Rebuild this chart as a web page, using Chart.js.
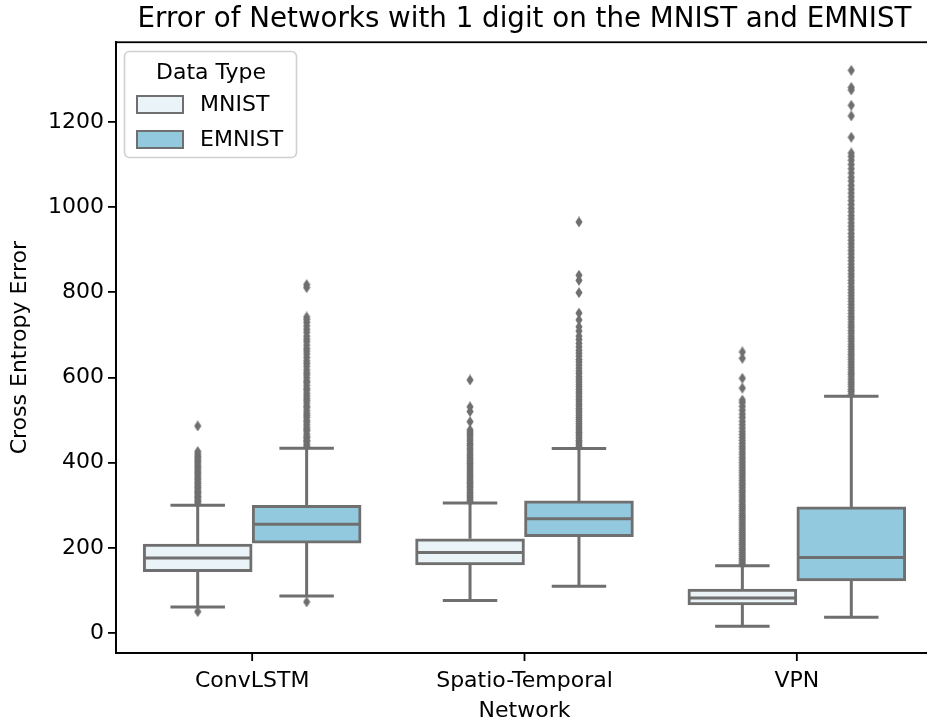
<!DOCTYPE html>
<html><head><meta charset="utf-8">
<script src="https://cdn.jsdelivr.net/npm/chart.js@4.4.0/dist/chart.umd.min.js"></script>
<style>html,body{margin:0;padding:0;background:#fff;overflow:hidden;} #wrap{width:960px;height:725px;}</style>
</head><body><div id="wrap"><canvas id="c" width="960" height="725"></canvas></div>
<script>
// ---------- data ----------
const categories = ['ConvLSTM', 'Spatio-Temporal', 'VPN'];
const seriesNames = ['MNIST', 'EMNIST'];
const yTicks = [0, 200, 400, 600, 800, 1000, 1200];

const mnistQ1     = [144, 160, 66];
const mnistMedian = [176, 189, 82];
const mnistQ3     = [209, 221, 103];
const mnistLow    = [61, 76, 16];
const mnistHigh   = [300, 305, 158];

const emnistQ1     = [211, 226, 122];
const emnistMedian = [255, 268, 177];
const emnistQ3     = [300, 310, 296];
const emnistLow    = [87, 110, 37];
const emnistHigh   = [434, 433, 556];

const convMnistOut = [50, 305, 309, 313, 318, 321, 326, 330, 333, 338, 342, 346, 351, 355, 360, 364, 369, 374, 378, 383, 388, 392, 397, 402, 406, 411, 415, 420, 426, 486];
const convEmnistOut = [73, 438, 443, 449, 452, 458, 461, 467, 474, 478, 483, 489, 495, 499, 506, 511, 516, 522, 529, 533, 540, 546, 551, 557, 563, 570, 574, 581, 588, 592, 599, 606, 611, 618, 626, 633, 639, 647, 655, 662, 668, 676, 684, 690, 697, 706, 713, 721, 729, 736, 742, 811, 818];
const stMnistOut = [309, 313, 318, 322, 327, 331, 336, 341, 345, 350, 354, 359, 364, 369, 373, 378, 383, 388, 393, 398, 403, 408, 413, 418, 423, 429, 434, 440, 445, 451, 456, 462, 467, 472, 477, 496, 520, 531, 594];
const stEmnistOut = [438, 443, 448, 452, 457, 462, 467, 471, 476, 481, 486, 491, 496, 501, 506, 511, 517, 522, 527, 533, 538, 544, 549, 555, 561, 566, 572, 578, 584, 590, 596, 602, 609, 615, 622, 629, 636, 642, 650, 657, 664, 672, 680, 689, 697, 709, 719, 735, 751, 799, 828, 840, 965];
const vpnMnistOut = [162, 166, 171, 175, 180, 184, 189, 194, 198, 203, 208, 212, 217, 222, 227, 231, 236, 241, 246, 251, 256, 261, 266, 271, 276, 281, 287, 292, 297, 302, 308, 313, 319, 324, 330, 335, 341, 347, 352, 358, 364, 370, 376, 382, 388, 394, 400, 406, 412, 419, 425, 432, 438, 445, 452, 459, 466, 473, 481, 489, 497, 506, 514, 523, 532, 541, 547, 575, 598, 645, 660];
const vpnEmnistOut = [561, 567, 572, 578, 584, 589, 595, 601, 607, 612, 618, 624, 630, 636, 642, 648, 654, 660, 666, 672, 678, 685, 691, 697, 704, 710, 717, 723, 730, 737, 743, 750, 757, 764, 771, 778, 785, 792, 799, 806, 813, 821, 828, 836, 843, 851, 858, 866, 874, 882, 890, 898, 906, 914, 922, 930, 938, 947, 955, 963, 972, 980, 989, 997, 1006, 1015, 1024, 1033, 1042, 1051, 1061, 1070, 1080, 1090, 1100, 1110, 1119, 1127, 1164, 1214, 1239, 1275, 1281, 1321];

const mnistOutliers = [convMnistOut, stMnistOut, vpnMnistOut];
const emnistOutliers = [convEmnistOut, stEmnistOut, vpnEmnistOut];

// ---------- styles ----------
const GREY = '#6f6f6f';
const FILLS = ['#eaf3f8', '#93c9de'];
const FONT = 'DejaVu Sans';
const GROUP_OFFSETS = [-0.2, 0.2];
const HALF_BOX = 0.2, HALF_CAP = 0.1;
const TICK_LEN = 8;

const series = [
  {name: seriesNames[0], q1: mnistQ1, med: mnistMedian, q3: mnistQ3, lo: mnistLow, hi: mnistHigh, out: mnistOutliers},
  {name: seriesNames[1], q1: emnistQ1, med: emnistMedian, q3: emnistQ3, lo: emnistLow, hi: emnistHigh, out: emnistOutliers}
];

const dia = document.createElement('canvas');
dia.width = 8; dia.height = 11;
(function(){ const d = dia.getContext('2d'); d.fillStyle = GREY; d.beginPath();
  d.moveTo(4, 0); d.lineTo(7.6, 5.5); d.lineTo(4, 11); d.lineTo(0.4, 5.5); d.closePath(); d.fill(); })();

const datasets = [];
series.forEach((s, k) => {
  datasets.push({
    type: 'bar', label: s.name, xAxisID: 'xs', yAxisID: 'y',
    data: s.q1.map((v, i) => ({x: i + GROUP_OFFSETS[k], y: [v, s.q3[i]]})),
    backgroundColor: FILLS[k], borderColor: GREY, borderWidth: 3, borderSkipped: false,
    grouped: false, categoryPercentage: 1.0, barPercentage: 1.0, order: 2
  });
});
series.forEach((s, k) => {
  const pts = [];
  s.out.forEach((arr, i) => arr.forEach(v => pts.push({x: i + GROUP_OFFSETS[k], y: v})));
  datasets.push({
    type: 'scatter', label: s.name + ' outliers', xAxisID: 'xs', yAxisID: 'y',
    data: pts, pointStyle: dia, pointRadius: 4, backgroundColor: GREY, borderColor: GREY, order: 1
  });
});

const boxParts = {
  id: 'boxParts',
  beforeDatasetsDraw(chart) {
    const {ctx} = chart; const xs = chart.scales.xs, y = chart.scales.y;
    ctx.save(); ctx.strokeStyle = GREY; ctx.lineWidth = 3; ctx.lineCap = 'butt';
    series.forEach((s, k) => {
      categories.forEach((c, i) => {
        const cx = xs.getPixelForValue(i + GROUP_OFFSETS[k]);
        const l = xs.getPixelForValue(i + GROUP_OFFSETS[k] - HALF_CAP);
        const r = xs.getPixelForValue(i + GROUP_OFFSETS[k] + HALF_CAP);
        ctx.beginPath();
        ctx.moveTo(cx, y.getPixelForValue(s.q3[i])); ctx.lineTo(cx, y.getPixelForValue(s.hi[i]));
        ctx.moveTo(cx, y.getPixelForValue(s.q1[i])); ctx.lineTo(cx, y.getPixelForValue(s.lo[i]));
        ctx.moveTo(l, y.getPixelForValue(s.hi[i])); ctx.lineTo(r, y.getPixelForValue(s.hi[i]));
        ctx.moveTo(l, y.getPixelForValue(s.lo[i])); ctx.lineTo(r, y.getPixelForValue(s.lo[i]));
        ctx.stroke();
      });
    });
    ctx.restore();
  },
  afterDatasetsDraw(chart) {
    const {ctx} = chart; const xs = chart.scales.xs, y = chart.scales.y;
    ctx.save(); ctx.strokeStyle = GREY; ctx.lineWidth = 3;
    series.forEach((s, k) => {
      categories.forEach((c, i) => {
        const l = xs.getPixelForValue(i + GROUP_OFFSETS[k] - HALF_BOX);
        const r = xs.getPixelForValue(i + GROUP_OFFSETS[k] + HALF_BOX);
        const py = y.getPixelForValue(s.med[i]);
        ctx.beginPath(); ctx.moveTo(l + 1.5, py); ctx.lineTo(r - 1.5, py); ctx.stroke();
      });
    });
    ctx.restore();
  },
  afterDraw(chart) {
    const {ctx} = chart; const xs = chart.scales.xs;
    const a = chart.chartArea;
    ctx.save();
    // frame
    ctx.strokeStyle = '#000'; ctx.lineWidth = 1.8;
    ctx.strokeRect(a.left, a.top, a.right - a.left, a.bottom - a.top);
    // x tick marks at category centres
    ctx.beginPath();
    categories.forEach((c, i) => {
      const px = xs.getPixelForValue(i);
      ctx.moveTo(px, a.bottom); ctx.lineTo(px, a.bottom + TICK_LEN);
    });
    ctx.stroke();
    // legend
    ctx.fillStyle = 'rgba(255,255,255,0.85)'; ctx.strokeStyle = '#d0d0d0'; ctx.lineWidth = 1.6;
    ctx.beginPath(); ctx.roundRect(124.5, 51.5, 172, 106, 5); ctx.fill(); ctx.stroke();
    ctx.fillStyle = '#000'; ctx.font = '22px "' + FONT + '"'; ctx.textBaseline = 'middle';
    ctx.textAlign = 'center'; ctx.fillText('Data Type', 211, 73);
    ctx.textAlign = 'left';
    series.forEach((s, k) => {
      const yy = 96 + k * 35;
      ctx.fillStyle = FILLS[k]; ctx.fillRect(137, yy, 46, 17);
      ctx.strokeStyle = GREY; ctx.lineWidth = 2; ctx.strokeRect(137, yy, 46, 17);
      ctx.fillStyle = '#000'; ctx.fillText(s.name, 200, yy + 9);
    });
    ctx.restore();
  }
};

new Chart(document.getElementById('c'), {
  type: 'bar',
  data: {labels: categories, datasets},
  options: {
    responsive: false, animation: false, devicePixelRatio: 1,
    layout: {padding: {left: 0, right: 27, top: 0, bottom: 0}},
    plugins: {
      legend: {display: false}, tooltip: {enabled: false},
      title: {display: true, fullSize: false, text: 'Error of Networks with 1 digit on the MNIST and EMNIST',
        color: '#000', font: {family: FONT, size: 27.7, weight: 'normal'}, padding: {top: 3, bottom: 6}}
    },
    scales: {
      x: {
        type: 'category', offset: true,
        grid: {display: false},
        border: {display: true, color: '#000', width: 1.8},
        ticks: {color: '#000', font: {family: FONT, size: 22}, padding: 7, maxRotation: 0},
        title: {display: true, text: 'Network', color: '#000', font: {family: FONT, size: 22}, padding: {top: 0, bottom: 1}},
        afterFit(s) { s.height = 72; }
      },
      xs: {type: 'linear', min: -0.5, max: 2.5, offset: false, display: false, ticks: {stepSize: 1}, grid: {offset: false}},
      y: {
        type: 'linear', min: -47, max: 1387,
        grid: {display: true, drawOnChartArea: false, drawTicks: true, tickLength: TICK_LEN, tickWidth: 1.8, tickColor: '#000', color: '#000', lineWidth: 1.8},
        border: {display: true, color: '#000', width: 1.8},
        afterBuildTicks(s) { s.ticks = yTicks.map(v => ({value: v})); },
        ticks: {color: '#000', font: {family: FONT, size: 22}, padding: 4, callback: v => String(v)},
        title: {display: true, text: 'Cross Entropy Error', color: '#000', font: {family: FONT, size: 22}, padding: {top: 7, bottom: 0}},
        afterFit(s) { s.width = 116; }
      }
    }
  },
  plugins: [boxParts]
});
</script></body></html>
